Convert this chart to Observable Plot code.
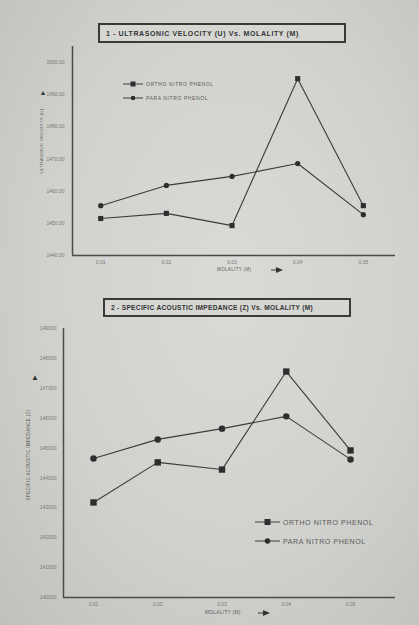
<!DOCTYPE html>
<html><head><meta charset="utf-8">
<script src="https://cdn.jsdelivr.net/npm/d3@7"></script>
<script src="https://cdn.jsdelivr.net/npm/@observablehq/plot@0.6"></script>
<style>
body{margin:0;}
#page{position:relative;width:419px;height:625px;overflow:hidden;
 background: radial-gradient(ellipse at 55% 45%, #dadbd7 0%, #d1d2ce 55%, #c0c1bc 100%);
 font-family:"Liberation Sans",Arial,sans-serif;}
.title{position:absolute;border:2px solid #3a3a3a;box-sizing:border-box;font-weight:bold;color:#333;
 letter-spacing:.6px;white-space:nowrap;display:flex;align-items:center;padding-left:6px;background:#d6d7d3}
.lbl{position:absolute;color:#5a5a5a;white-space:nowrap;letter-spacing:.3px;line-height:1}
.plot{position:absolute;left:0}
.leg{position:absolute;display:flex;align-items:center;color:#5a5a5a;white-space:nowrap;letter-spacing:.6px;line-height:1}
</style></head><body><div id="page"></div>
<script>
// ---- data ----
const molality = [0.01, 0.02, 0.03, 0.04, 0.05];
const velocityOrtho = [1451.5, 1453.1, 1449.3, 1495.0, 1455.5];
const velocityPara  = [1455.5, 1461.8, 1464.6, 1468.6, 1452.7];
const velocityTicks = [1440, 1450, 1460, 1470, 1480, 1490, 1500];
const impedanceOrtho = [143180, 144520, 144280, 147560, 144920];
const impedancePara  = [144650, 145290, 145650, 146060, 144620];
const impedanceTicks = [140000, 141000, 142000, 143000, 144000, 145000, 146000, 147000, 148000, 149000];
const seriesNames = ["ORTHO NITRO PHENOL", "PARA NITRO PHENOL"];
const title1 = "1 - ULTRASONIC VELOCITY (U) Vs. MOLALITY (M)";
const title2 = "2 - SPECIFIC ACOUSTIC IMPEDANCE (Z) Vs. MOLALITY (M)";
const yLabel1 = "ULTRASONIC VELOCITY (U)";
const yLabel2 = "SPECIFIC ACOUSTIC IMPEDANCE (Z)";
const xLabel = "MOLALITY (M)";

const page = document.getElementById("page");
const toRows = (ys) => molality.map((m, i) => ({m, v: ys[i]}));

function chart(opts) {
  const p = Plot.plot({
    width: 419, height: opts.height,
    marginLeft: opts.ml, marginRight: 24, marginTop: opts.mt, marginBottom: opts.mb,
    style: {background: "transparent", color: "#777", fontSize: "5px", fontFamily: "Liberation Sans, Arial, sans-serif"},
    x: {domain: opts.xd, ticks: molality, tickFormat: d => d.toFixed(2), tickSize: 0, tickPadding: 5, label: null},
    y: {domain: opts.yd, ticks: opts.yt, tickFormat: opts.yf, tickSize: 0, tickPadding: opts.tp, label: null},
    marks: [
      Plot.ruleX([opts.xd[0]], {stroke: "#4a4a4a", strokeWidth: 1.5}),
      Plot.ruleY([opts.yd[0]], {stroke: "#4a4a4a", strokeWidth: 1.5}),
      Plot.line(toRows(opts.a), {x: "m", y: "v", stroke: "#3c3c3c", strokeWidth: 1.1}),
      Plot.line(toRows(opts.b), {x: "m", y: "v", stroke: "#3c3c3c", strokeWidth: 1.1}),
      Plot.dot(toRows(opts.a), {x: "m", y: "v", symbol: "square", fill: "#2e2e2e", r: opts.r}),
      Plot.dot(toRows(opts.b), {x: "m", y: "v", symbol: "circle", fill: "#2e2e2e", r: opts.r * 0.9})
    ]
  });
  p.classList.add("plot");
  p.style.top = opts.top + "px";
  page.appendChild(p);
}

chart({top: 0, height: 285, ml: 72, mt: 46, mb: 30, xd: [0.0057, 0.0549], yd: [1440, 1505],
  yt: velocityTicks, yf: d => d.toFixed(2), tp: 8, a: velocityOrtho, b: velocityPara, r: 2.9});
chart({top: 320, height: 305, ml: 63, mt: 8, mb: 28, xd: [0.00533, 0.0570], yd: [140000, 149000],
  yt: impedanceTicks, yf: d => String(d), tp: 7, a: impedanceOrtho, b: impedancePara, r: 3.6});

function el(cls, html, css) {
  const d = document.createElement("div");
  d.className = cls; d.innerHTML = html; Object.assign(d.style, css); page.appendChild(d); return d;
}
// titles
el("title", title1, {left: "98px", top: "23px", width: "248px", height: "20px", fontSize: "7px"});
el("title", title2, {left: "103px", top: "298px", width: "248px", height: "19px", fontSize: "6.6px", letterSpacing: ".3px"});
// y labels
el("lbl", yLabel1, {left: "42px", top: "141px", fontSize: "4.4px", transform: "translate(-50%,-50%) rotate(-90deg)"});
el("lbl", yLabel2, {left: "29px", top: "455px", fontSize: "4.6px", transform: "translate(-50%,-50%) rotate(-90deg)"});
el("lbl", "▲", {left: "43px", top: "92px", fontSize: "7px", color: "#333", transform: "translate(-50%,-50%)"});
el("lbl", "▲", {left: "35px", top: "378px", fontSize: "8px", color: "#333", transform: "translate(-50%,-50%)"});
// x labels
const arrow = '<svg width="12" height="6" style="margin-left:20px"><line x1="0" y1="3" x2="6" y2="3" stroke="#333" stroke-width="1"/><polygon points="5,0 12,3 5,6" fill="#333"/></svg>';
el("lbl", xLabel + arrow, {left: "217px", top: "267px", fontSize: "4.6px", display: "flex", alignItems: "center"});
el("lbl", xLabel + arrow.replace("margin-left:20px", "margin-left:17px"), {left: "205px", top: "610px", fontSize: "4.8px", display: "flex", alignItems: "center"});
// legends
function legend(x, y, sym, text, size, fs, len) {
  const c = len / 2;
  const shape = sym === "square"
    ? `<rect x="${c - size / 2}" y="${5 - size / 2}" width="${size}" height="${size}" fill="#2e2e2e"/>`
    : `<circle cx="${c}" cy="5" r="${size / 2}" fill="#2e2e2e"/>`;
  el("leg", `<svg width="${len}" height="10"><line x1="0" y1="5" x2="${len}" y2="5" stroke="#3c3c3c" stroke-width="1"/>${shape}</svg><span style="margin-left:3px">${text}</span>`,
    {left: x + "px", top: (y - 5) + "px", fontSize: fs + "px"});
}
legend(123, 84, "square", seriesNames[0], 5, 5, 20);
legend(123, 98, "circle", seriesNames[1], 4.5, 5, 20);
legend(255, 522, "square", seriesNames[0], 6, 7, 25);
legend(255, 541, "circle", seriesNames[1], 5.5, 7, 25);
</script></body></html>
